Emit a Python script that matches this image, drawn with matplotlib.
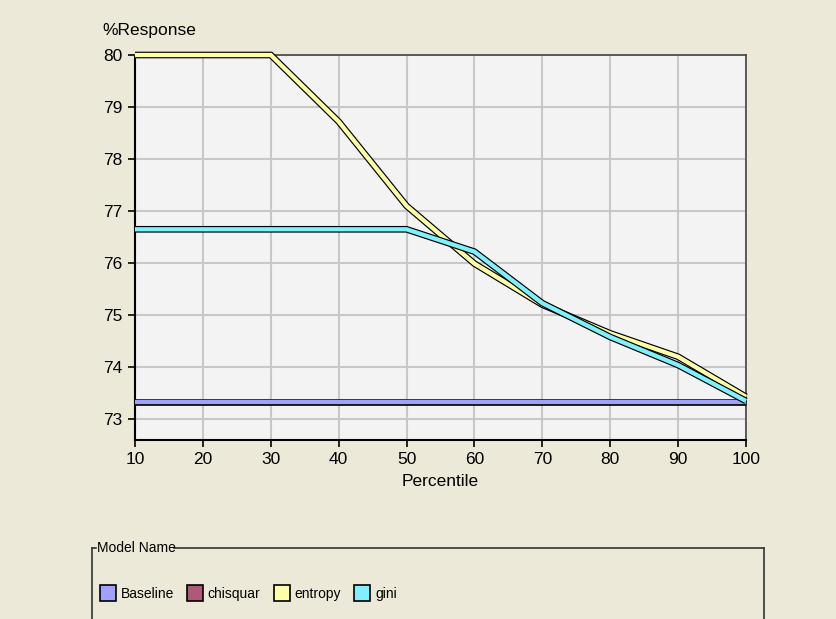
import matplotlib
matplotlib.use("Agg")
import matplotlib.pyplot as plt
import matplotlib.patheffects as pe
from matplotlib.patches import Patch
from matplotlib.lines import Line2D

percentile = [10, 20, 30, 40, 50, 60, 70, 80, 90, 100]
baseline = [73.33] * 10
entropy = [80.0, 80.0, 80.0, 78.72, 77.1, 75.99, 75.2, 74.65, 74.2, 73.43]
gini = [76.65, 76.65, 76.65, 76.65, 76.65, 76.22, 75.23, 74.58, 74.04, 73.35]
series_names = ["Baseline", "chisquar", "entropy", "gini"]
series_colors = ["#A0A0FF", "#B05878", "#FFFFAA", "#80F0FF"]
xticks = [10, 20, 30, 40, 50, 60, 70, 80, 90, 100]
yticks = [73, 74, 75, 76, 77, 78, 79, 80]

plt.rcParams['font.family'] = ['Liberation Sans', 'DejaVu Sans']
bg = "#ECE9D8"
fig = plt.figure(figsize=(8.36, 6.19), dpi=100, facecolor=bg)
ax = fig.add_axes([135/836, 1-440/619, (746-135)/836, (440-55)/619])
ax.set_facecolor("#F3F3F3")

stroke = [pe.Stroke(linewidth=4.8, foreground="black"), pe.Normal()]
kw = dict(lw=3.1, path_effects=stroke, solid_capstyle="butt", solid_joinstyle="miter", clip_on=False)
ax.plot(percentile, baseline, color=series_colors[0], zorder=3, **kw)
ax.plot(percentile, entropy, color=series_colors[2], zorder=4, **kw)
ax.plot(percentile, gini, color=series_colors[3], zorder=5, **kw)

ax.set_xlim(10, 100)
ax.set_ylim(72.6, 80.0)
ax.set_xticks(xticks)
ax.set_yticks(yticks)
ax.grid(True, color="#C8C8C8", lw=1.5)
ax.set_axisbelow(True)
for s in ["top", "right"]:
    ax.spines[s].set_color("#444444")
    ax.spines[s].set_linewidth(1.2)
for s in ["left", "bottom"]:
    ax.spines[s].set_color("black")
    ax.spines[s].set_linewidth(1.5)
ax.tick_params(direction="out", length=5, width=1.2, labelsize=12.5, colors="black", pad=4)
ax.set_xlabel("Percentile", fontsize=12.5, labelpad=5)
fig.text(102/836, 1-30/619, "%Response", fontsize=12.5, ha="left", va="center")

# Legend frame
fx0, fx1, fy = 92/836, 764/836, 1-548/619
fig.add_artist(Line2D([fx0, fx0], [fy, 0], transform=fig.transFigure, color="#333333", lw=1.2))
fig.add_artist(Line2D([fx1, fx1], [fy, 0], transform=fig.transFigure, color="#333333", lw=1.2))
fig.add_artist(Line2D([fx0, 96/836], [fy, fy], transform=fig.transFigure, color="#333333", lw=1.2))
fig.add_artist(Line2D([174/836, fx1], [fy, fy], transform=fig.transFigure, color="#333333", lw=1.2))
fig.text(97/836, fy, "Model Name", fontsize=10, ha="left", va="center")

handles = [Patch(facecolor=c, edgecolor="black", lw=1.2) for c in series_colors]
leg = fig.legend(handles, series_names, loc="center left", bbox_to_anchor=(94/836, 1-593/619),
                 ncol=4, frameon=False, fontsize=10, handlelength=1.15, handleheight=1.5,
                 handletextpad=0.35, columnspacing=0.95, borderaxespad=0)

fig.savefig("out.png", dpi=100, facecolor=bg)
